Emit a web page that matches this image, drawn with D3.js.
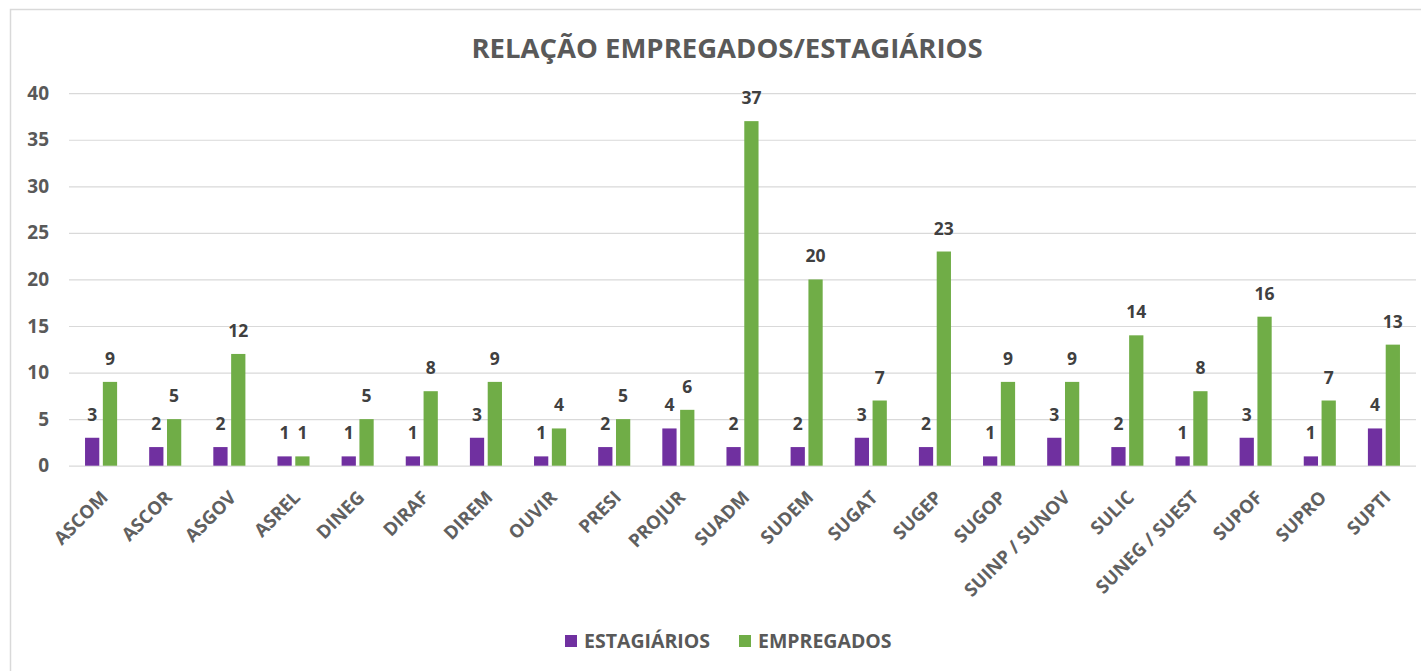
<!DOCTYPE html>
<html>
<head>
<meta charset="utf-8">
<script src="https://cdn.jsdelivr.net/npm/d3@7"></script>
<style>
  html, body { margin: 0; padding: 0; background: #ffffff; }
  svg { display: block; }
  text { font-family: "Open Sans", "DejaVu Sans", sans-serif; font-weight: 700; }
</style>
</head>
<body>
<svg id="chart" width="1421" height="671"></svg>
<script>
// Departments on the horizontal axis
const categories = ["ASCOM", "ASCOR", "ASGOV", "ASREL", "DINEG", "DIRAF", "DIREM", "OUVIR", "PRESI", "PROJUR",
  "SUADM", "SUDEM", "SUGAT", "SUGEP", "SUGOP", "SUINP / SUNOV", "SULIC", "SUNEG / SUEST", "SUPOF", "SUPRO", "SUPTI"];

// Headcount per department
const estagiarios = [3, 2, 2, 1, 1, 1, 3, 1, 2, 4, 2, 2, 3, 2, 1, 3, 2, 1, 3, 1, 4];
const empregados  = [9, 5, 12, 1, 5, 8, 9, 4, 5, 6, 37, 20, 7, 23, 9, 9, 14, 8, 16, 7, 13];

const seriesNames = ["ESTAGIÁRIOS", "EMPREGADOS"];
const seriesColors = ["#7030A0", "#70AD47"];
const yTicks = [0, 5, 10, 15, 20, 25, 30, 35, 40];
const titleText = "RELAÇÃO EMPREGADOS/ESTAGIÁRIOS";

const svg = d3.select("#chart");

// Chart frame (left and top edges)
svg.append("path")
  .attr("d", "M10.5,671 L10.5,9.5 L1421,9.5")
  .attr("fill", "none")
  .attr("stroke", "#d9d9d9")
  .attr("stroke-width", 1.5);

const plot = { left: 69, right: 1416, top: 93.2, bottom: 465.7 };

const y = d3.scaleLinear().domain([0, 40]).range([plot.bottom, plot.top]);
const x0 = d3.scaleBand().domain(categories).range([plot.left, plot.right]).padding(0);
const x1 = d3.scaleBand().domain(seriesNames).range([0, x0.bandwidth()])
  .paddingInner(0.2).paddingOuter(0.9);

// Gridlines and y-axis labels
const yAxis = d3.axisLeft(y).tickValues(yTicks).tickSize(-(plot.right - plot.left)).tickPadding(20);
const gy = svg.append("g").attr("transform", `translate(${plot.left},0)`).call(yAxis);
gy.select(".domain").remove();
gy.selectAll(".tick line").attr("stroke", "#d9d9d9").attr("stroke-width", 1.2);
gy.selectAll(".tick text")
  .attr("fill", "#595959")
  .attr("font-size", 19)
  .attr("font-family", "\"Open Sans\", sans-serif")
  .attr("font-weight", 700);

// Category labels, slanted
const xAxis = d3.axisBottom(x0).tickSize(0).tickPadding(0);
const gx = svg.append("g").attr("transform", `translate(0,${plot.bottom})`).call(xAxis);
gx.select(".domain").remove();
gx.selectAll(".tick text")
  .attr("fill", "#606060")
  .attr("font-size", 18.5)
  .attr("font-family", "\"Open Sans\", sans-serif")
  .attr("font-weight", 600)
  .attr("text-anchor", "end")
  .attr("dy", 0)
  .attr("transform", "translate(8,33) rotate(-45)");

// Bars
const rows = categories.map((c, i) => ({ cat: c, vals: [estagiarios[i], empregados[i]] }));
const groups = svg.append("g").selectAll("g")
  .data(rows).join("g")
  .attr("transform", d => `translate(${x0(d.cat)},0)`);

groups.selectAll("rect")
  .data(d => d.vals.map((v, k) => ({ v, k })))
  .join("rect")
  .attr("x", d => x1(seriesNames[d.k]))
  .attr("width", x1.bandwidth())
  .attr("y", d => y(d.v))
  .attr("height", d => y(0) - y(d.v))
  .attr("fill", d => seriesColors[d.k]);

// Value labels above bars
groups.selectAll("text.val")
  .data(d => d.vals.map((v, k) => ({ v, k })))
  .join("text")
  .attr("class", "val")
  .attr("x", d => x1(seriesNames[d.k]) + x1.bandwidth() / 2)
  .attr("y", d => y(d.v) - 17)
  .attr("text-anchor", "middle")
  .attr("font-size", 17.5)
  .attr("fill", "#404040")
  .text(d => d.v);

// Title
svg.append("text")
  .attr("x", 727)
  .attr("y", 58)
  .attr("text-anchor", "middle")
  .attr("font-size", 27.5)
  .attr("fill", "#595959")
  .text(titleText);

// Legend
const legendX = [565, 739];
const legend = svg.append("g").selectAll("g")
  .data(seriesNames).join("g")
  .attr("transform", (d, i) => `translate(${legendX[i]},641)`);
legend.append("rect")
  .attr("x", 0).attr("y", -6)
  .attr("width", 12).attr("height", 12)
  .attr("fill", (d, i) => seriesColors[i]);
legend.append("text")
  .attr("x", 19).attr("y", 7)
  .attr("font-size", 19.5)
  .attr("font-weight", 600)
  .attr("fill", "#595959")
  .text(d => d);
</script>
</body>
</html>
